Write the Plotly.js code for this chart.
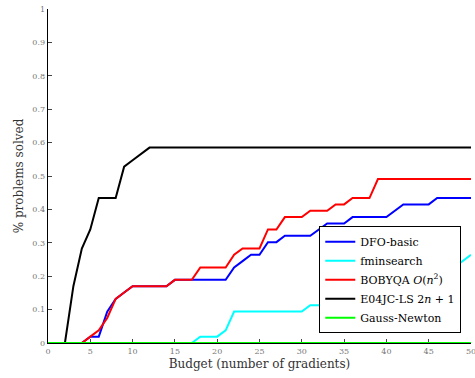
<!DOCTYPE html>
<html>
<head>
<meta charset="utf-8">
<script src="https://cdn.plot.ly/plotly-3.0.1.min.js"></script>
<style>html,body{margin:0;padding:0;background:#fff;}#chart{width:475px;height:378px;}</style>
</head>
<body>
<div id="chart"></div>
<script>
// Series names
const seriesNames = ["DFO-basic", "fminsearch", "BOBYQA <i>O</i>(<i>n</i><sup>2</sup>)", "E04JC-LS 2<i>n</i> + 1", "Gauss-Newton"];

// Axis ticks
const xTicks = [0,5,10,15,20,25,30,35,40,45,50];
const yTicks = [0,0.1,0.2,0.3,0.4,0.5,0.6,0.7,0.8,0.9,1];

// DFO-basic
const dfoX = [0,4,5,6,7,8,9,10,14,15,21,22,23,24,25,26,27,28,31,32,33,35,36,40,41,42,45,46,50];
const dfoY = [0,0,0.019,0.019,0.094,0.132,0.151,0.170,0.170,0.189,0.189,0.226,0.245,0.264,0.264,0.302,0.302,0.321,0.321,0.340,0.358,0.358,0.377,0.377,0.396,0.415,0.415,0.434,0.434];

// fminsearch
const fminX = [0,17,18,20,21,22,30,31,32,34,36,38,40,43,45,48,49,50];
const fminY = [0,0,0.019,0.019,0.038,0.094,0.094,0.113,0.113,0.132,0.151,0.170,0.189,0.208,0.226,0.226,0.245,0.264];

// BOBYQA O(n^2)
const bobX = [0,4,5,6,7,8,9,10,14,15,17,18,21,22,23,25,26,27,28,30,31,33,34,35,36,38,39,50];
const bobY = [0,0,0.019,0.038,0.075,0.132,0.151,0.170,0.170,0.189,0.189,0.226,0.226,0.264,0.283,0.283,0.340,0.340,0.377,0.377,0.396,0.396,0.415,0.415,0.434,0.434,0.491,0.491];

// E04JC-LS 2n+1
const e04X = [0,2,3,4,5,6,8,9,10,11,12,50];
const e04Y = [0,0,0.170,0.283,0.340,0.434,0.434,0.528,0.547,0.566,0.585,0.585];

// Gauss-Newton
const gnX = [0,50];
const gnY = [0,0];

const colors = ["#0000ff", "#00ffff", "#ff0000", "#000000", "#00ff00"];
const xs = [dfoX, fminX, bobX, e04X, gnX];
const ys = [dfoY, fminY, bobY, e04Y, gnY];

const traces = seriesNames.map((n, i) => ({
  x: xs[i], y: ys[i], name: n, type: "scatter", mode: "lines",
  line: {color: colors[i], width: 2}, cliponaxis: false
}));

const serif = "DejaVu Serif";
const layout = {
  width: 475, height: 378,
  margin: {l: 48, r: 4, t: 9, b: 35},
  paper_bgcolor: "#fff", plot_bgcolor: "#fff",
  showlegend: true,
  legend: {
    x: 0.977, xanchor: "right", y: 0.029, yanchor: "bottom",
    bgcolor: "#fff", bordercolor: "#000", borderwidth: 1,
    font: {family: serif, size: 11, color: "#000"},
    tracegroupgap: 0, itemwidth: 30
  },
  xaxis: {
    range: [0, 50], tickmode: "array", tickvals: xTicks, ticktext: xTicks.map(String),
    ticks: "inside", ticklen: 4, tickcolor: "#444", tickwidth: 1,
    showgrid: false, zeroline: false, showline: true, linecolor: "#000", linewidth: 1,
    layer: "below traces", ticklabeloverflow: "allow", automargin: false,
    tickfont: {family: serif, size: 8, color: "#777"},
    title: {text: "Budget (number of gradients)", font: {family: serif, size: 12, color: "#333"}, standoff: 5}
  },
  yaxis: {
    range: [0, 1], tickmode: "array", tickvals: yTicks, ticktext: yTicks.map(String),
    ticks: "inside", ticklen: 4, tickcolor: "#444", tickwidth: 1,
    showgrid: false, zeroline: false, showline: true, linecolor: "#000", linewidth: 1.3,
    layer: "below traces", ticklabeloverflow: "allow", automargin: false,
    tickfont: {family: serif, size: 8, color: "#777"},
    title: {text: "% problems solved", font: {family: serif, size: 12, color: "#333"}, standoff: 6}
  }
};

Plotly.newPlot("chart", traces, layout, {displayModeBar: false, staticPlot: true});
</script>
</body>
</html>
